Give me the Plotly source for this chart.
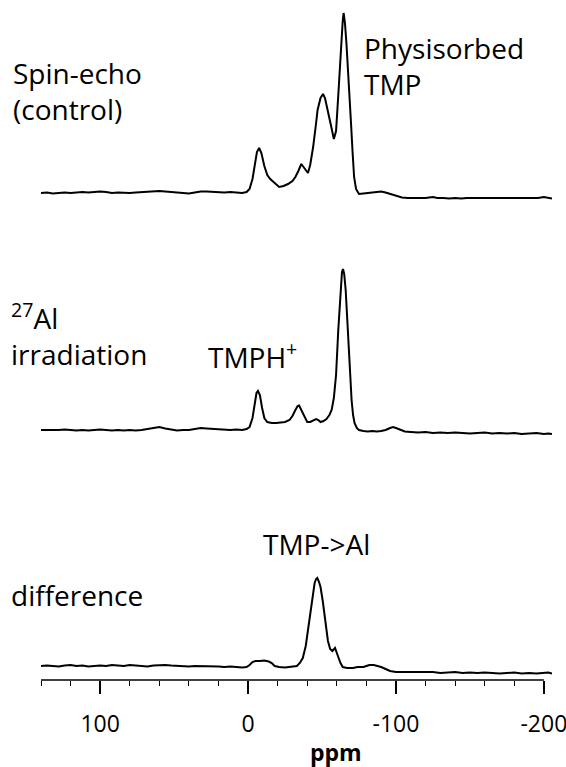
import plotly.graph_objects as go

# ---------------- data ----------------
# chemical shift (ppm) and intensity (a.u.) for each spectrum
ppm_top = [140, 136, 132, 128, 124, 120, 116, 112, 108, 104, 100, 96, 92, 88, 84, 80, 76, 72, 68, 64,
           60, 56, 52, 48, 44, 40, 36, 32, 28, 24, 20, 16, 12, 8, 4, 1, -1, -3, -4.5, -6,
           -7.5, -9, -11, -13, -15, -17.5, -21, -24, -27, -30, -32, -34, -36, -38.5, -40.5, -42, -44, -46, -47, -49,
           -50.7, -52, -54, -56, -58, -59.5, -60.8, -62, -63, -64, -64.6, -65.5, -66.5, -67.4, -68.5, -69.6, -70.7, -71.7, -73, -75,
           -78, -81, -84, -87, -90, -93, -96, -100, -104, -108, -112, -116, -120, -125, -128, -132, -136, -140, -144, -148,
           -152, -156, -160, -164, -168, -172, -176, -180, -184, -188, -192, -196, -200, -203, -205.5]
int_top = [0, 0.5, -0.5, 0, 0.5, 0, 0.5, 1, 0.5, 1, 1.5, 1, 0, 0.5, 0, 0, 0.5, 1, 1, 1.5,
           2, 1.5, 1, 0.5, 0, -0.5, 0.5, 1.5, 1.5, 1, 1, 0.5, 1, 0.5, 0, 1, 4, 14, 30, 41,
           45, 40, 27, 18, 14, 11, 6, 7, 9, 12, 16, 22, 29, 24, 20, 28, 46, 70, 83, 95,
           99, 95, 83, 68, 54, 62, 93, 125, 150, 172, 180, 170, 150, 130, 100, 70, 40, 16, 4, -1,
           -0.5, 0, 1, 1.5, 1.5, 0.5, -1, -3, -4.5, -5, -5, -4.5, -5, -4, -5, -5, -5.5, -5, -5.5, -5,
           -5, -5.5, -5, -5.5, -5, -5.5, -5, -5.5, -5, -5.5, -5, -5, -4, -5, -5.5]

ppm_mid = [140, 136, 132, 128, 124, 120, 116, 112, 108, 104, 100, 96, 92, 88, 84, 80, 76, 72, 68, 64,
           60, 56, 52, 48, 44, 40, 36, 32, 28, 24, 20, 16, 12, 8, 4, 1, -1, -3, -4.5, -5.7,
           -6.7, -8, -9.5, -11, -13, -16, -19, -22, -25, -28, -30, -32, -33.5, -34.5, -36, -38, -40, -42, -44, -46,
           -47.5, -49, -51, -53, -55, -56.5, -58, -59.5, -61, -62.5, -63.5, -64.2, -65, -66, -67, -68, -69, -70, -71, -72,
           -73.5, -75, -78, -81, -84, -87, -90, -93, -96, -98, -100, -103, -106, -110, -115, -120, -125, -130, -135, -140,
           -145, -150, -155, -160, -165, -170, -175, -180, -185, -190, -195, -200, -203, -205.5]
int_mid = [0, 0, -0.5, 0, 0.5, 0, -0.5, 0, -0.5, 0, 0.5, 0, -0.5, 0, -0.5, 0, -0.5, 0, 1, 2.5,
           3, 1.5, 0.5, -0.5, 0, 0, 1, 2, 1.5, 1, 0.5, 0.5, 0, 0.5, 0, 1, 3, 12, 28, 37,
           39, 35, 22, 12, 8, 7, 7, 7.5, 8, 10, 14, 20, 24, 24.5, 20, 13, 8, 8, 9.5, 11,
           10, 8, 9, 11, 15, 20, 32, 55, 100, 140, 158, 161, 156, 140, 110, 80, 55, 30, 15, 7,
           2, 0, -1, -1.5, -1, -1.5, -1, 0, 2, 3, 2, 0, -1.5, -2, -2.5, -2, -3, -2.5, -3, -2.5,
           -3, -3.5, -3, -2.5, -3.5, -3, -3.5, -3, -4, -3.5, -3, -4, -3.5, -4]

ppm_dif = [140, 136, 132, 128, 124, 120, 116, 112, 108, 104, 100, 96, 92, 88, 84, 80, 76, 72, 68, 64,
           60, 56, 52, 48, 44, 40, 36, 32, 28, 24, 20, 16, 12, 8, 4, 1, -1, -3, -5, -8,
           -11, -14, -16, -18, -21, -25, -29, -33, -35, -37, -39, -40.5, -42, -43, -44, -45, -46, -46.8, -48, -49,
           -50.5, -51.4, -53, -54, -55.5, -57, -58.8, -60, -61, -62.5, -64, -67, -71, -74, -78, -80, -82, -85, -87, -90,
           -93, -96, -100, -105, -110, -115, -120, -125, -130, -135, -140, -145, -150, -155, -160, -165, -170, -175, -180, -185,
           -190, -195, -200, -203, -205.5]
int_dif = [0, 0.5, 0, -0.5, 0.5, 1, 0, 0.5, -0.5, 0, 0.5, 0, 1, 0.5, 0, 1, 0.5, 0, -0.5, 0.5,
           1, 1, 0.5, 0, 0, -0.5, 0, 0, -0.5, 0, -0.5, -1, -0.5, -1, -1.5, -1, 1, 4, 5, 5,
           5.5, 4.5, 3, 0, -1, -1.5, -1, 0, 3, 8, 20, 35, 52, 63, 75, 83, 87, 88, 84, 79,
           65, 53, 35, 25, 17, 15, 18, 14, 9, 3, -1, -2, -2, -1, -1, 0, 1, 1, 0.5, -1,
           -3, -5, -6, -6, -6.5, -6, -6.5, -6, -7, -6.5, -6, -7, -6.5, -7, -6.5, -7, -7.5, -7, -6.5, -7.5,
           -7, -7.5, -7, -6.5, -7.5]

spectra = [
    ("Spin-echo (control)", ppm_top, int_top),
    ("27Al irradiation", ppm_mid, int_mid),
    ("difference", ppm_dif, int_dif),
]

x_ticks = [100, 0, -100, -200]
tick_text = ["100", "0", "-100", "-200"]

# ---------------- layout constants ----------------
offsets = [487, 250, 14]          # vertical stacking of the spectra
X_RANGE = [140, -205.5]
Y_RANGE = [0, 675]
FONT = "Open Sans"

fig = go.Figure()
for (name, xs, ys), off in zip(spectra, offsets):
    fig.add_trace(go.Scatter(
        x=xs, y=[v + off for v in ys], mode="lines", name=name,
        line=dict(color="black", width=2), showlegend=False, hoverinfo="skip",
    ))

ann_font = dict(family=FONT, size=28, color="black")


def px_to_paper_x(px):
    return (px - 41) / 511


def px_to_paper_y(py):
    return (680 - py) / 675


annotations = [
    dict(text="Spin-echo<br>(control)", x=px_to_paper_x(11), y=px_to_paper_y(91),
         xanchor="left", yanchor="middle", align="left"),
    dict(text="Physisorbed<br>TMP", x=px_to_paper_x(362), y=px_to_paper_y(66),
         xanchor="left", yanchor="middle", align="left"),
    dict(text="<sup>27</sup>Al<br>irradiation", x=px_to_paper_x(9), y=px_to_paper_y(334),
         xanchor="left", yanchor="middle", align="left"),
    dict(text="TMPH<sup>+</sup>", x=px_to_paper_x(206), y=px_to_paper_y(355),
         xanchor="left", yanchor="middle", align="left"),
    dict(text="TMP->Al", x=px_to_paper_x(261), y=px_to_paper_y(544),
         xanchor="left", yanchor="middle", align="left"),
    dict(text="difference", x=px_to_paper_x(9), y=px_to_paper_y(595),
         xanchor="left", yanchor="middle", align="left"),
]
for a in annotations:
    a.update(xref="paper", yref="paper", showarrow=False, font=ann_font)

annotations.append(dict(text="<b>ppm</b>", x=px_to_paper_x(336), y=px_to_paper_y(752),
                        xref="paper", yref="paper", xanchor="center", yanchor="middle",
                        showarrow=False, font=dict(family=FONT, size=23, color="black")))

fig.update_layout(
    width=566, height=767,
    margin=dict(l=41, r=14, t=5, b=87, autoexpand=False),
    paper_bgcolor="white", plot_bgcolor="white",
    annotations=annotations,
    shapes=[dict(type="line", xref="x", yref="paper", x0=140, x1=-200, y0=0, y1=0,
                 line=dict(color="black", width=1.5))],
    xaxis=dict(
        range=X_RANGE, showgrid=False, zeroline=False, showline=False, automargin=False,
        tickmode="array", tickvals=x_ticks, ticktext=tick_text,
        ticks="outside", ticklen=13, tickwidth=1.5, tickcolor="black",
        tickfont=dict(family=FONT, size=23, color="black"),
        ticklabelstandoff=10, ticklabeloverflow="allow",
        minor=dict(dtick=20, tick0=0, ticks="outside", ticklen=5, tickwidth=1.3, tickcolor="black",
                   showgrid=False),
    ),
    yaxis=dict(range=Y_RANGE, visible=False, showgrid=False, zeroline=False),
)

fig.write_html("out.html")
